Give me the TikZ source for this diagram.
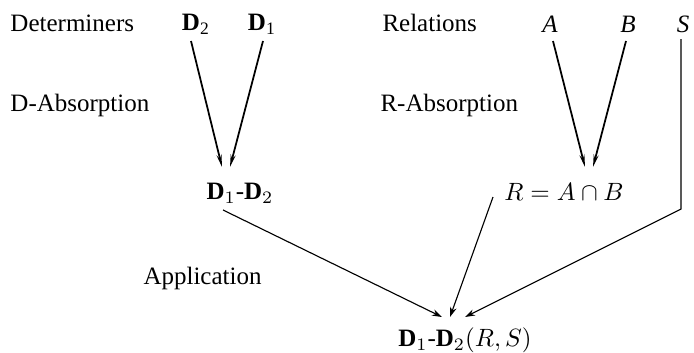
\documentclass[tikz,border=0pt]{standalone}
\usepackage{fontspec}
\setmainfont{Liberation Serif}
\usetikzlibrary{arrows.meta,calc}
\begin{document}
\begin{tikzpicture}[x=0.4pt,y=-0.4pt,
  lbl/.style={anchor=west,inner sep=0pt,font=\fontsize{10}{12}\selectfont},
  item/.style={inner sep=0pt,font=\fontsize{10}{12}\selectfont},
  toparr/.style={line width=0.7pt,-{Stealth[length=5pt,width=2pt]}},
  botarr/.style={line width=0.45pt,-{Stealth[length=4pt,width=2.6pt]}}]
\useasboundingbox (0,0) rectangle (694,353);
% labels
\node[lbl] (det) at (10,23) {Determiners};
\node[lbl] (dabs) at (10,105) {D-Absorption};
\node[lbl] (rel) at (382,23) {Relations};
\node[lbl] (rabs) at (380,105) {R-Absorption};
\node[lbl] (app) at (143,278) {Application};
% items
\node[item] (D2) at (196,24) {\textbf{D}\textsubscript{2}};
\node[item] (D1) at (262,24) {\textbf{D}\textsubscript{1}};
\node[item] (A) at (550,24) {\textit{A}};
\node[item] (B) at (628,24) {\textit{B}};
\node[item] (S) at (683,24) {\textit{S}};
\node[item] (D12) at (240,193) {$\mathbf{D}_1$-$\mathbf{D}_2$};
\node[item] (R) at (564,192) {$R=A\cap B$};
\node[item] (F) at (465,340) {$\mathbf{D}_1$-$\mathbf{D}_2(R,S)$};
\coordinate (Sc) at (681,209);
% connectors
\draw[toparr] ($(D2)+(-5,17)$) -- ($(D12)+(-18,-26)$);
\draw[toparr] ($(D1)+(1,17)$) -- ($(D12)+(-10,-26)$);
\draw[toparr] ($(A)+(3,17)$) -- ($(R)+(21,-25)$);
\draw[toparr] ($(B)+(-2,17)$) -- ($(R)+(29,-25)$);
\draw[botarr] ($(D12)+(-17,17)$) -- ($(F)+(-23,-23)$);
\draw[botarr] ($(R)+(-71,5)$) -- ($(F)+(-15,-23)$);
\draw[botarr] ($(S)+(-2,15)$) -- (Sc) -- ($(F)+(0,-23)$);
\end{tikzpicture}
\end{document}
